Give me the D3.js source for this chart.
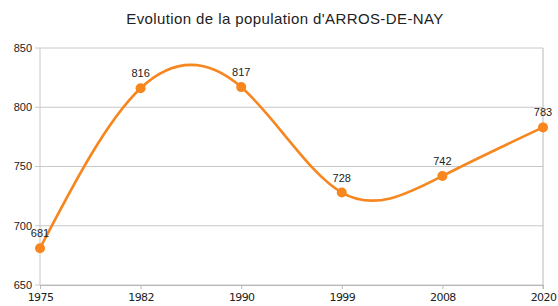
<!DOCTYPE html>
<html>
<head>
<meta charset="utf-8">
<script src="https://cdn.jsdelivr.net/npm/d3@7"></script>
<style>
  body { margin: 0; background: #fff; }
  text { font-family: "Liberation Sans", Arial, sans-serif; fill: #222; }
</style>
</head>
<body>
<div class="demo"></div>
<script>
(function() {
    var years = ["1975", "1982", "1990", "1999", "2008", "2020"];
    var population = [681, 816, 817, 728, 742, 783];
    var yTicks = [650, 700, 750, 800, 850];

    var width = 558,
        height = 306;
    var margin = { top: 48, right: 15, bottom: 21, left: 40 };
    var orange = "#f7861f";

    var svg = d3.select(".demo").append("svg")
        .attr("width", width)
        .attr("height", height);

    var x = d3.scalePoint()
        .domain(years)
        .range([margin.left, width - margin.right]);

    var y = d3.scaleLinear()
        .domain([650, 850])
        .range([height - margin.bottom, margin.top]);

    // title
    svg.append("text")
        .attr("x", 285)
        .attr("y", 24)
        .attr("text-anchor", "middle")
        .style("font-size", "15px")
        .style("letter-spacing", "0.4px")
        .text("Evolution de la population d'ARROS-DE-NAY");

    // horizontal grid lines
    svg.append("g")
        .selectAll("line")
        .data(yTicks)
        .enter().append("line")
        .attr("x1", margin.left - 5)
        .attr("x2", width - margin.right)
        .attr("y1", function(d) { return y(d); })
        .attr("y2", function(d) { return y(d); })
        .attr("stroke", "#c8c8c8")
        .attr("stroke-width", 1);

    // left and right frame lines
    svg.append("line")
        .attr("x1", margin.left).attr("x2", margin.left)
        .attr("y1", y(850)).attr("y2", y(650))
        .attr("stroke", "#c8c8c8");
    svg.append("line")
        .attr("x1", width - margin.right).attr("x2", width - margin.right)
        .attr("y1", y(850)).attr("y2", y(650) + 4)
        .attr("stroke", "#b8b8b8");

    // x axis
    var xAxis = svg.append("g")
        .attr("transform", "translate(0," + y(650) + ")")
        .call(d3.axisBottom(x).tickSize(4).tickPadding(4));
    xAxis.select(".domain").attr("stroke", "#b8b8b8");
    xAxis.selectAll(".tick line").attr("stroke", "#b8b8b8");
    xAxis.selectAll("text")
        .style("font-size", "11px")
        .style("font-family", "'DejaVu Sans', sans-serif")
        .style("letter-spacing", "-0.6px")
        .attr("fill", "#222");

    // y labels
    svg.append("g")
        .selectAll("text")
        .data(yTicks)
        .enter().append("text")
        .attr("x", margin.left - 8)
        .attr("y", function(d) { return y(d); })
        .attr("dy", ".35em")
        .attr("text-anchor", "end")
        .style("font-size", "11px")
        .text(function(d) { return d; });

    // smooth line
    var line = d3.line()
        .x(function(d, i) { return x(years[i]); })
        .y(function(d) { return y(d); })
        .curve(d3.curveNatural);

    svg.append("path")
        .datum(population)
        .attr("fill", "none")
        .attr("stroke", orange)
        .attr("stroke-width", 2.6)
        .attr("d", line);

    // markers
    svg.append("g")
        .selectAll("circle")
        .data(population)
        .enter().append("circle")
        .attr("cx", function(d, i) { return x(years[i]); })
        .attr("cy", function(d) { return y(d); })
        .attr("r", 5)
        .attr("fill", orange);

    // value labels
    svg.append("g")
        .selectAll("text")
        .data(population)
        .enter().append("text")
        .attr("x", function(d, i) { return x(years[i]); })
        .attr("y", function(d) { return y(d) - 11; })
        .attr("text-anchor", "middle")
        .style("font-size", "11px")
        .text(function(d) { return d; });
})();
</script>
</body>
</html>
